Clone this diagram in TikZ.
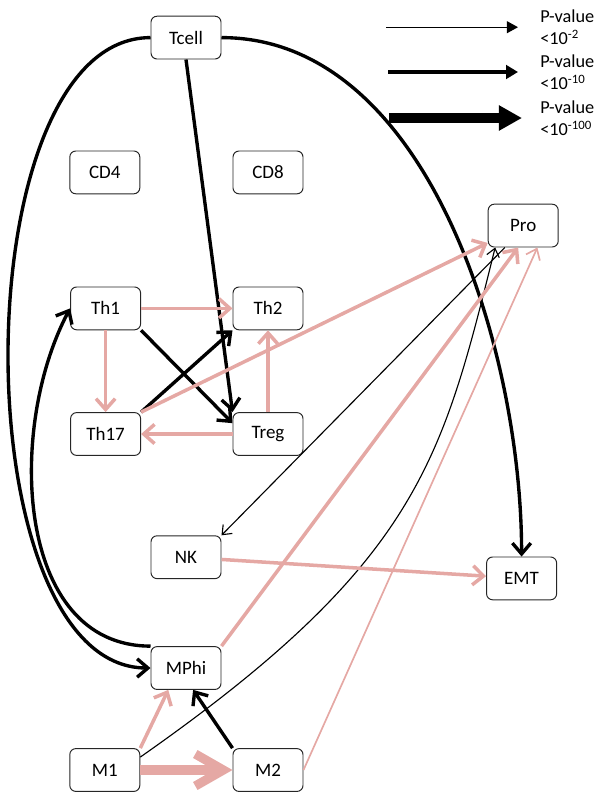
\documentclass[tikz,border=0pt]{standalone}
\usepackage{fontspec}
\setmainfont{Carlito}
\usepackage{tikz}
\usetikzlibrary{arrows.meta,positioning}

\definecolor{linkpink}{RGB}{229,168,164}

\tikzset{
  cellbox/.style={draw=black!85, line width=0.7pt, rounded corners=0.15cm,
    minimum width=1.75cm, minimum height=1.07cm, inner sep=0pt,
    font=\fontsize{13.5}{15}\selectfont},
  keylabel/.style={align=left, inner sep=0pt, font=\fontsize{13}{16}\selectfont},
  blackmid/.style={line width=2.4pt, -{Straight Barb[length=0.27cm,width=0.46cm]}},
  blackthin/.style={line width=0.8pt, -{Straight Barb[length=0.2cm,width=0.32cm]}},
  pinkmid/.style={linkpink, line width=2.5pt, -{Straight Barb[length=0.27cm,width=0.48cm]}},
  pinkthin/.style={linkpink, line width=1.2pt, -{Straight Barb[length=0.24cm,width=0.38cm]}},
  pinkthick/.style={linkpink, line width=6.5pt, -{Straight Barb[length=0.7cm,width=0.8cm]}},
}

\begin{document}
\begin{tikzpicture}
        \useasboundingbox (0,0) rectangle (15.1,-20);
        % Draw the cell boxes
        \foreach \cellname/\x/\y in {Tcell/4.65/0.94, CD4/2.62/4.31, CD8/6.70/4.31,
            Th1/2.64/7.71, Th2/6.70/7.71, Th17/2.64/10.85, Treg/6.70/10.85,
            Pro/13.08/5.64, NK/4.65/13.93, EMT/13.04/14.46,
            MPhi/4.65/16.70, M1/2.62/19.25, M2/6.70/19.25} {
            \node[cellbox] (\cellname) at (\x,-\y) {\cellname};
        }

        % Legend
        \coordinate (k1a) at (9.65,-0.68);
        \coordinate (k1b) at (12.95,-0.68);
        \coordinate (k2a) at (9.70,-1.80);
        \coordinate (k2b) at (12.95,-1.80);
        \coordinate (k3a) at (9.72,-2.95);
        \coordinate (k3b) at (13.05,-2.95);
        \draw[line width=0.9pt, -{Triangle[length=0.28cm,width=0.3cm]}] (k1a) -- (k1b);
        \draw[line width=2.2pt, -{Triangle[length=0.3cm,width=0.34cm]}] (k2a) -- (k2b);
        \draw[line width=7pt, -{Triangle[length=0.58cm,width=0.6cm]}] (k3a) -- (k3b);
        \node[keylabel, right=0.55cm of k1b] (k1) {P-value\\<10\textsuperscript{-2}};
        \node[keylabel, right=0.55cm of k2b] (k2) {P-value\\<10\textsuperscript{-10}};
        \node[keylabel, right=0.45cm of k3b] (k3) {P-value\\<10\textsuperscript{-100}};

        % T cell links
        \draw[blackmid] (Tcell.west) to[out=180,in=180,looseness=0.77] (MPhi.west);
        \draw[blackmid] (Tcell.south) -- (Treg.north west);
        \draw[blackmid] (Tcell.east) to[out=0,in=90,looseness=0.88] (EMT.north);
        \draw[blackmid] (MPhi.north west) to[out=180,in=242] (Th1.west);

        % T helper links
        \draw[pinkmid] (Th1) -- (Th2);
        \draw[pinkmid] (Th1) -- (Th17);
        \draw[pinkmid] (Treg) -- (Th2);
        \draw[pinkmid] (Treg) -- (Th17);
        \draw[blackmid] (Th1.south east) -- (Treg.163);
        \draw[blackmid] (Th17.north east) -- (Th2.south west);
        \draw[pinkmid] (Th17.north east) -- (Pro.206);

        % Macrophage links
        \draw[pinkthick] (M1) -- (M2);
        \draw[pinkmid] (M1.north east) -- (MPhi.231);
        \draw[blackmid] (M2.north west) -- (MPhi.288);
        \draw[blackthin] (M1.20) to[out=35,in=-104,out looseness=1.4,in looseness=0.9] (Pro.218);
        \draw[pinkmid] (MPhi.north east) -- (Pro.257);
        \draw[pinkthin] (M2.east) -- (Pro.303);

        % NK links
        \draw[blackthin] (Pro.230) -- (NK.north east);
        \draw[pinkmid] (NK) -- (EMT);
    \end{tikzpicture}
\end{document}
